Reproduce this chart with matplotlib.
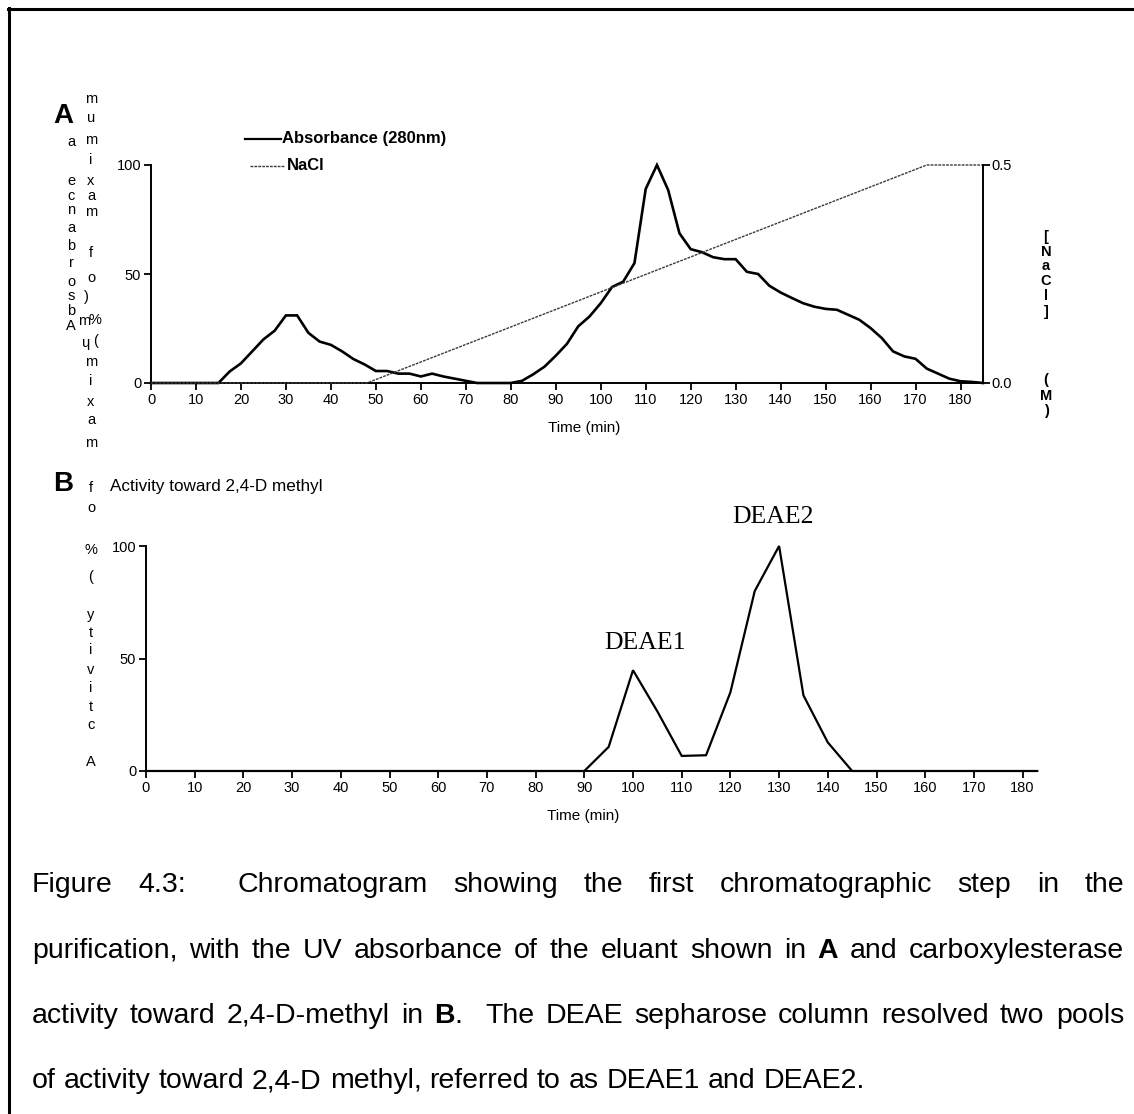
import matplotlib
matplotlib.use("Agg")
import matplotlib.pyplot as plt
from matplotlib.lines import Line2D

W, H = 1134, 1114
DPI = 100

# ---- Panel A: UV absorbance (% of maximum) and NaCl gradient ----
time_a = [0, 15, 17.5, 20, 22.5, 25, 27.5, 30, 32.5, 35, 37.5, 40, 42.5, 45,
          47.5, 50, 52.5, 55, 57.5, 60, 62.5, 65, 67.5, 70, 72.5, 75, 77.5,
          80, 82.5, 85, 87.5, 90, 92.5, 95, 97.5, 100, 102.5, 105, 107.5,
          110, 112.5, 115, 117.5, 120, 122.5, 125, 127.5, 130, 132.5, 135,
          137.5, 140, 142.5, 145, 147.5, 150, 152.5, 155, 157.5, 160, 162.5,
          165, 167.5, 170, 172.5, 175, 177.5, 180, 182.5, 185]
absorbance = [0, 0, 5.3, 9, 14.5, 20, 24, 31, 31, 23, 19, 17.5, 14.5, 11,
              8.5, 5.5, 5.5, 4.3, 4.3, 3, 4.3, 3, 2, 1, 0, 0, 0,
              0, 1, 4, 7.5, 12.5, 18, 26, 30.5, 36.6, 44, 46.5, 55,
              89, 100, 88.5, 68.7, 61.4, 60, 57.7, 56.8, 56.8, 51, 50,
              44.6, 41.5, 39, 36.6, 35, 34, 33.6, 31.3, 29, 25.2, 20.6,
              14.5, 12.2, 11.1, 6.6, 4.3, 2, 0.8, 0.5, 0]

nacl_time = [0, 48, 172.5, 185]
nacl_molar = [0.0, 0.0, 0.5, 0.5]

# ---- Panel B: activity toward 2,4-D methyl (% of maximum) ----
time_b = [0, 90, 95, 100, 105, 110, 115, 120, 125, 130, 135, 140, 145, 183]
activity = [0, 0, 10.7, 44.8, 26.5, 6.7, 7, 35, 80, 100, 33.6, 12.7, 0, 0]

x_ticks = list(range(0, 181, 10))
y_ticks = [0, 50, 100]
nacl_ticks = [0.0, 0.5]
nacl_tick_labels = ["0.0", "0.5"]

peak_labels = ["DEAE1", "DEAE2"]
peak_label_pos = [(102.5, 57), (128.7, 113)]

SANS = ["Liberation Sans", "DejaVu Sans"]
SERIF = ["Liberation Serif", "DejaVu Serif"]
plt.rcParams["font.family"] = SANS

fig = plt.figure(figsize=(W / DPI, H / DPI), dpi=DPI)


def fx(px):
    return px / W


def fy(py):
    return 1 - py / H


# page frame (top and left rules)
fig.add_artist(Line2D([fx(8), 1.0], [fy(9), fy(9)], color="black", lw=2.2))
fig.add_artist(Line2D([fx(9), fx(9)], [fy(8), 0.0], color="black", lw=2.2))

TICK_FS = 10.5


def style_axis(ax):
    ax.spines["top"].set_visible(False)
    ax.spines["right"].set_visible(False)
    for s in ("left", "bottom"):
        ax.spines[s].set_linewidth(1.4)
    ax.tick_params(direction="out", length=5, width=1.3, labelsize=TICK_FS,
                   pad=2)
    ax.patch.set_alpha(0)


# ---- Panel A ----
axA = fig.add_axes([fx(151), fy(383), fx(983) - fx(151), fy(165) - fy(383)])
axA.plot(time_a, absorbance, color="black", lw=1.9, clip_on=False,
         solid_joinstyle="miter")
axA.set_xlim(0, 185)
axA.set_ylim(0, 100)
axA.set_xticks(x_ticks)
axA.set_yticks(y_ticks)
style_axis(axA)

axN = axA.twinx()
axN.plot(nacl_time, nacl_molar, color="#3a3a3a", lw=1.0,
         linestyle=(0, (2.0, 0.8)), clip_on=False)
axN.set_ylim(0, 0.5)
axN.set_yticks(nacl_ticks)
axN.set_yticklabels(nacl_tick_labels)
for s in ("top", "left", "bottom"):
    axN.spines[s].set_visible(False)
axN.spines["right"].set_linewidth(1.4)
axN.tick_params(direction="out", length=5, width=1.3, labelsize=TICK_FS, pad=1)

fig.text(fx(584), fy(428), "Time (min)", ha="center", va="center",
         fontsize=11)

# legend
fig.add_artist(Line2D([fx(245), fx(281)], [fy(139), fy(139)], color="black",
                      lw=1.6))
fig.text(fx(282), fy(139), "Absorbance (280nm)", ha="left", va="center",
         fontsize=12, fontweight="bold")
fig.add_artist(Line2D([fx(250), fx(285)], [fy(166), fy(166)],
                      color="#3a3a3a", lw=1.0, linestyle=(0, (2.0, 0.8))))
fig.text(fx(287), fy(166), "NaCl", ha="left", va="center", fontsize=12,
         fontweight="bold")

fig.text(fx(63), fy(116), "A", ha="center", va="center", fontsize=20,
         fontweight="bold")

# ---- Panel B ----
axB = fig.add_axes([fx(146), fy(771), 183 * 4.87 / W, fy(546) - fy(771)])
axB.plot(time_b, activity, color="black", lw=1.6, clip_on=False,
         solid_joinstyle="miter")
axB.set_xlim(0, 183)
axB.set_ylim(0, 100)
axB.set_xticks(x_ticks)
axB.set_yticks(y_ticks)
style_axis(axB)
for name, (xv, yv) in zip(peak_labels, peak_label_pos):
    axB.text(xv, yv, name, ha="center", va="center", fontsize=18.5,
             family=SERIF, clip_on=False)

fig.text(fx(583), fy(816), "Time (min)", ha="center", va="center",
         fontsize=11)
fig.text(fx(63), fy(484), "B", ha="center", va="center", fontsize=20,
         fontweight="bold")
fig.text(fx(110), fy(486), "Activity toward 2,4-D methyl", ha="left",
         va="center", fontsize=12.3)

# ---- stacked vertical axis captions ----
CH_FS = 10.5
col1 = [("a", 142), ("e", 181), ("c", 196), ("n", 210), ("a", 228),
        ("b", 246), ("r", 263), ("o", 282), ("s", 296), ("b", 311),
        ("A", 326)]
for ch, yy in col1:
    fig.text(fx(71), fy(yy), ch, ha="center", va="center", fontsize=CH_FS)

col2 = [("m", 99), ("u", 118), ("m", 140), ("i", 160), ("x", 181),
        ("a", 196), ("m", 212), ("f", 253), ("o", 278), ("%", 320),
        ("m", 362), ("i", 381), ("x", 402), ("a", 420), ("m", 443),
        ("f", 488), ("o", 508), ("%", 550), ("(", 577), ("y", 615),
        ("t", 633), ("i", 650), ("v", 670), ("i", 688), ("t", 707),
        ("c", 725), ("A", 762)]
for ch, yy in col2:
    xx = 95 if (ch == "%" and yy == 320) else 91
    fig.text(fx(xx), fy(yy), ch, ha="center", va="center", fontsize=CH_FS)

extra = [(")", 86, 297), ("m", 84, 321), ("\u0265", 86, 343), ("(", 96, 341)]
for ch, xx, yy in extra:
    fig.text(fx(xx), fy(yy), ch, ha="center", va="center", fontsize=CH_FS)

right_col = [("[", 237), ("N", 252), ("a", 266), ("C", 281), ("l", 296),
             ("]", 312), ("(", 380), ("M", 396), (")", 411)]
for ch, yy in right_col:
    fig.text(fx(1046), fy(yy), ch, ha="center", va="center", fontsize=CH_FS,
             fontweight="bold")

# ---- figure caption (justified) ----
CAP_FS = 20.5
cap_lines = [
    [[("Figure", "normal")], [("4.3:", "normal")], None,
     [("Chromatogram", "normal")], [("showing", "normal")],
     [("the", "normal")], [("first", "normal")],
     [("chromatographic", "normal")], [("step", "normal")],
     [("in", "normal")], [("the", "normal")]],
    [[("purification,", "normal")], [("with", "normal")], [("the", "normal")],
     [("UV", "normal")], [("absorbance", "normal")], [("of", "normal")],
     [("the", "normal")], [("eluant", "normal")], [("shown", "normal")],
     [("in", "normal")], [("A", "bold")], [("and", "normal")],
     [("carboxylesterase", "normal")]],
    [[("activity", "normal")], [("toward", "normal")],
     [("2,4-D-methyl", "normal")], [("in", "normal")],
     [("B", "bold"), (".", "normal")], None, [("The", "normal")],
     [("DEAE", "normal")], [("sepharose", "normal")], [("column", "normal")],
     [("resolved", "normal")], [("two", "normal")], [("pools", "normal")]],
    [[("of", "normal")], [("activity", "normal")], [("toward", "normal")],
     [("2,4-D", "normal")], [("methyl,", "normal")], [("referred", "normal")],
     [("to", "normal")], [("as", "normal")], [("DEAE1", "normal")],
     [("and", "normal")], [("DEAE2.", "normal")]],
]
cap_baselines = [892, 958, 1023, 1088]
cap_justify = [True, True, True, False]
CAP_X0, CAP_X1 = 32, 1124

renderer = fig.canvas.get_renderer()
space_px = 0.278 * CAP_FS * DPI / 72

for line, base, just in zip(cap_lines, cap_baselines, cap_justify):
    # split into words and gap weights (None marks an extra space)
    words, gaps = [], []
    for item in line:
        if item is None:
            gaps[-1] += 1
            continue
        words.append(item)
        gaps.append(1)
    gaps = gaps[:-1]
    placed = []
    total_w = 0
    for segs in words:
        arts = []
        wsum = 0
        for txt, wt in segs:
            t = fig.text(0, fy(base), txt, fontsize=CAP_FS, fontweight=wt,
                         ha="left", va="baseline")
            bw = t.get_window_extent(renderer).width
            arts.append((t, bw))
            wsum += bw
        placed.append((arts, wsum))
        total_w += wsum
    if just:
        unit = (CAP_X1 - CAP_X0 - total_w) / sum(gaps)
    else:
        unit = space_px
    x = CAP_X0
    for i, (arts, wsum) in enumerate(placed):
        xx = x
        for t, bw in arts:
            t.set_x(fx(xx))
            xx += bw
        x += wsum
        if i < len(gaps):
            x += unit * gaps[i]

fig.savefig("out.png", dpi=DPI, facecolor="white")
